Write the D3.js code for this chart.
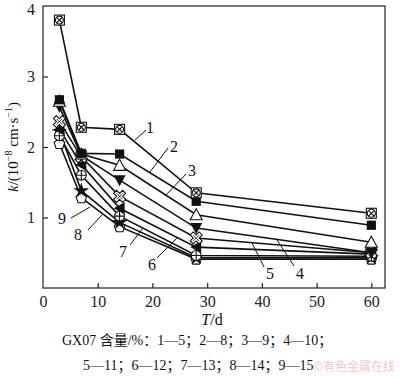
<!DOCTYPE html>
<html><head><meta charset="utf-8">
<script src="https://cdn.jsdelivr.net/npm/d3@7"></script>
<style>body{margin:0;background:#fff}svg{display:block}</style>
</head><body>
<svg id="c" width="400" height="377"></svg>
<script>
const days = [3, 7, 14, 28, 60];
const s1 = [3.80, 2.28, 2.25, 1.35, 1.06];
const s2 = [2.67, 1.91, 1.90, 1.23, 0.89];
const s3 = [2.65, 1.90, 1.74, 1.04, 0.65];
const s4 = [2.57, 1.88, 1.53, 0.85, 0.50];
const s5 = [2.36, 1.86, 1.30, 0.71, 0.50];
const s6 = [2.25, 1.75, 1.13, 0.58, 0.48];
const s7 = [2.16, 1.60, 1.02, 0.46, 0.45];
const s8 = [2.22, 1.38, 0.93, 0.43, 0.43];
const s9 = [2.05, 1.28, 0.87, 0.41, 0.41];
const seriesNames = ["1","2","3","4","5","6","7","8","9"];
const xTicks = [0, 10, 20, 30, 40, 50, 60];
const yTicks = [1, 2, 3, 4];
const caption1 = "GX07 含量/%：1—5；2—8；3—9；4—10；";
const caption2 = "5—11；6—12；7—13；8—14；9—15";

const allSeries = [s1,s2,s3,s4,s5,s6,s7,s8,s9];
const markerTypes = ["circX","square","triUp","triDown","hatchX","triLeft","circPlus","star","pent"];

const svg = d3.select("#c");
const L = 43, R = 385, T = 6, B = 288;
const x = d3.scaleLinear().domain([0, 62.5]).range([L, R]);
const y = d3.scaleLinear().domain([0, 4]).range([B, T]);
const font = "Liberation Serif, Times New Roman, serif";

// frame
svg.append("rect").attr("x", L).attr("y", T).attr("width", R - L).attr("height", B - T)
  .attr("fill", "none").attr("stroke", "#222").attr("stroke-width", 1.2);

// x axis
const xa = svg.append("g").attr("transform", `translate(0,${B})`)
  .call(d3.axisBottom(x).tickValues(xTicks).tickSize(-5).tickPadding(8).tickFormat(d3.format("d")));
xa.select(".domain").remove();
xa.selectAll("line").attr("stroke", "#222").attr("stroke-width", 1.2);
xa.selectAll("text").attr("font-family", font).attr("font-size", 16).attr("fill", "#222");
xa.selectAll(".tick").filter(d => d === 0).select("line").remove();

// y axis
const ya = svg.append("g").attr("transform", `translate(${L},0)`)
  .call(d3.axisLeft(y).tickValues(yTicks).tickSize(-5).tickPadding(8).tickFormat(d3.format("d")));
ya.select(".domain").remove();
ya.selectAll("line").attr("stroke", "#222").attr("stroke-width", 1.2);
ya.selectAll("text").attr("font-family", font).attr("font-size", 16).attr("fill", "#222");
ya.selectAll(".tick").filter(d => d === 4).select("line").remove();
ya.selectAll(".tick").filter(d => d === 4).select("text").attr("dy", "0.32em").attr("y", 3);

// axis titles
const yl = svg.append("text").attr("transform", "translate(18,147) rotate(-90)")
  .attr("text-anchor", "middle").attr("font-family", font).attr("font-size", 15).attr("fill", "#111");
yl.append("tspan").attr("font-style", "italic").text("k");
yl.append("tspan").text("/(10");
yl.append("tspan").attr("dy", -6).attr("font-size", 10).text("−8");
yl.append("tspan").attr("dy", 6).text(" cm·s");
yl.append("tspan").attr("dy", -6).attr("font-size", 10).text("−1");
yl.append("tspan").attr("dy", 6).text(")");

const xl = svg.append("text").attr("x", 212).attr("y", 325).attr("text-anchor", "middle")
  .attr("font-family", font).attr("font-size", 16).attr("fill", "#111");
xl.append("tspan").attr("font-style", "italic").text("T");
xl.append("tspan").text("/d");

// lines
const line = d3.line().x((d, i) => x(days[i])).y(d => y(d));
allSeries.forEach(s => {
  svg.append("path").datum(s).attr("d", line).attr("fill", "none")
    .attr("stroke", "#111").attr("stroke-width", 1.6);
});

// markers
function drawMarker(g, type) {
  const sw = 1.1;
  if (type === "circX") {
    g.append("rect").attr("x", -5).attr("y", -5).attr("width", 10).attr("height", 10).attr("fill", "#fff").attr("stroke", "#111").attr("stroke-width", sw);
    g.append("circle").attr("r", 4).attr("fill", "none").attr("stroke", "#111").attr("stroke-width", sw);
    g.append("path").attr("d", "M-3,-3L3,3M-3,3L3,-3").attr("stroke", "#111").attr("stroke-width", sw);
  } else if (type === "square") {
    g.append("path").attr("d", d3.symbol(d3.symbolSquare, 85)()).attr("fill", "#111");
  } else if (type === "triUp") {
    g.append("path").attr("d", "M0,-6L6,5L-6,5Z").attr("fill", "#fff").attr("stroke", "#111").attr("stroke-width", sw);
  } else if (type === "triDown") {
    g.append("path").attr("d", "M0,6L6,-5L-6,-5Z").attr("fill", "#111");
  } else if (type === "triLeft") {
    g.append("path").attr("d", "M-6,0L5,-6L5,6Z").attr("fill", "#111");
  } else if (type === "hatchX") {
    g.append("path").attr("d", d3.symbol(d3.symbolCross, 90)()).attr("transform", "rotate(45)")
      .attr("fill", "#fff").attr("stroke", "#111").attr("stroke-width", sw);
    g.append("path").attr("d", "M-3,-3L3,3M-3,3L3,-3").attr("stroke", "#111").attr("stroke-width", 0.8);
  } else if (type === "circPlus") {
    g.append("circle").attr("r", 5).attr("fill", "#fff").attr("stroke", "#111").attr("stroke-width", sw);
    g.append("path").attr("d", "M-5,0L5,0M0,-5L0,5").attr("stroke", "#111").attr("stroke-width", sw);
  } else if (type === "star") {
    g.append("path").attr("d", d3.symbol(d3.symbolStar, 75)()).attr("fill", "#111");
  } else if (type === "pent") {
    const pts = d3.range(5).map(i => {
      const a = -Math.PI / 2 + i * 2 * Math.PI / 5;
      return [5.6 * Math.cos(a), 5.6 * Math.sin(a) + 0.5];
    });
    g.append("path").attr("d", "M" + pts.join("L") + "Z").attr("fill", "#fff").attr("stroke", "#111").attr("stroke-width", sw);
  }
}
for (let k = allSeries.length - 1; k >= 0; k--) {
  allSeries[k].forEach((v, i) => {
    const g = svg.append("g").attr("transform", `translate(${x(days[i])},${y(v)})`);
    drawMarker(g, markerTypes[k]);
  });
}

// series labels with leader lines
const labelPos = [
  {t: seriesNames[0], tx: 150, ty: 133, l: [135, 140, 146, 130]},
  {t: seriesNames[1], tx: 174, ty: 152, l: [150, 172, 168, 148]},
  {t: seriesNames[2], tx: 192, ty: 176, l: [165, 196, 186, 174]},
  {t: seriesNames[3], tx: 300, ty: 279, l: [277, 240, 294, 266]},
  {t: seriesNames[4], tx: 270, ty: 279, l: [252, 243, 264, 267]},
  {t: seriesNames[5], tx: 152, ty: 270, l: [157, 258, 177, 238]},
  {t: seriesNames[6], tx: 123, ty: 257, l: [130, 245, 143, 228]},
  {t: seriesNames[7], tx: 78, ty: 240, l: [88, 230, 102, 215]},
  {t: seriesNames[8], tx: 62, ty: 224, l: [71, 218, 90, 207]}
];
labelPos.forEach(p => {
  svg.append("line").attr("x1", p.l[0]).attr("y1", p.l[1]).attr("x2", p.l[2]).attr("y2", p.l[3])
    .attr("stroke", "#111").attr("stroke-width", 1);
  svg.append("text").attr("x", p.tx).attr("y", p.ty).attr("text-anchor", "middle")
    .attr("font-family", font).attr("font-size", 16).attr("fill", "#111").text(p.t);
});

// caption
svg.append("text").attr("x", 62).attr("y", 345).attr("font-family", "Liberation Serif, Noto Sans CJK SC, serif")
  .attr("font-size", 14).attr("fill", "#111").text(caption1);
svg.append("text").attr("x", 83).attr("y", 370).attr("font-family", "Liberation Serif, Noto Sans CJK SC, serif")
  .attr("font-size", 14).attr("fill", "#111").text(caption2);
// watermark
svg.append("text").attr("x", 395).attr("y", 371).attr("text-anchor", "end")
  .attr("font-family", "Noto Sans CJK SC, sans-serif").attr("font-size", 12).attr("fill", "#f2b8b8")
  .attr("opacity", 0.8).text("©有色金属在线");
</script>
</body></html>
